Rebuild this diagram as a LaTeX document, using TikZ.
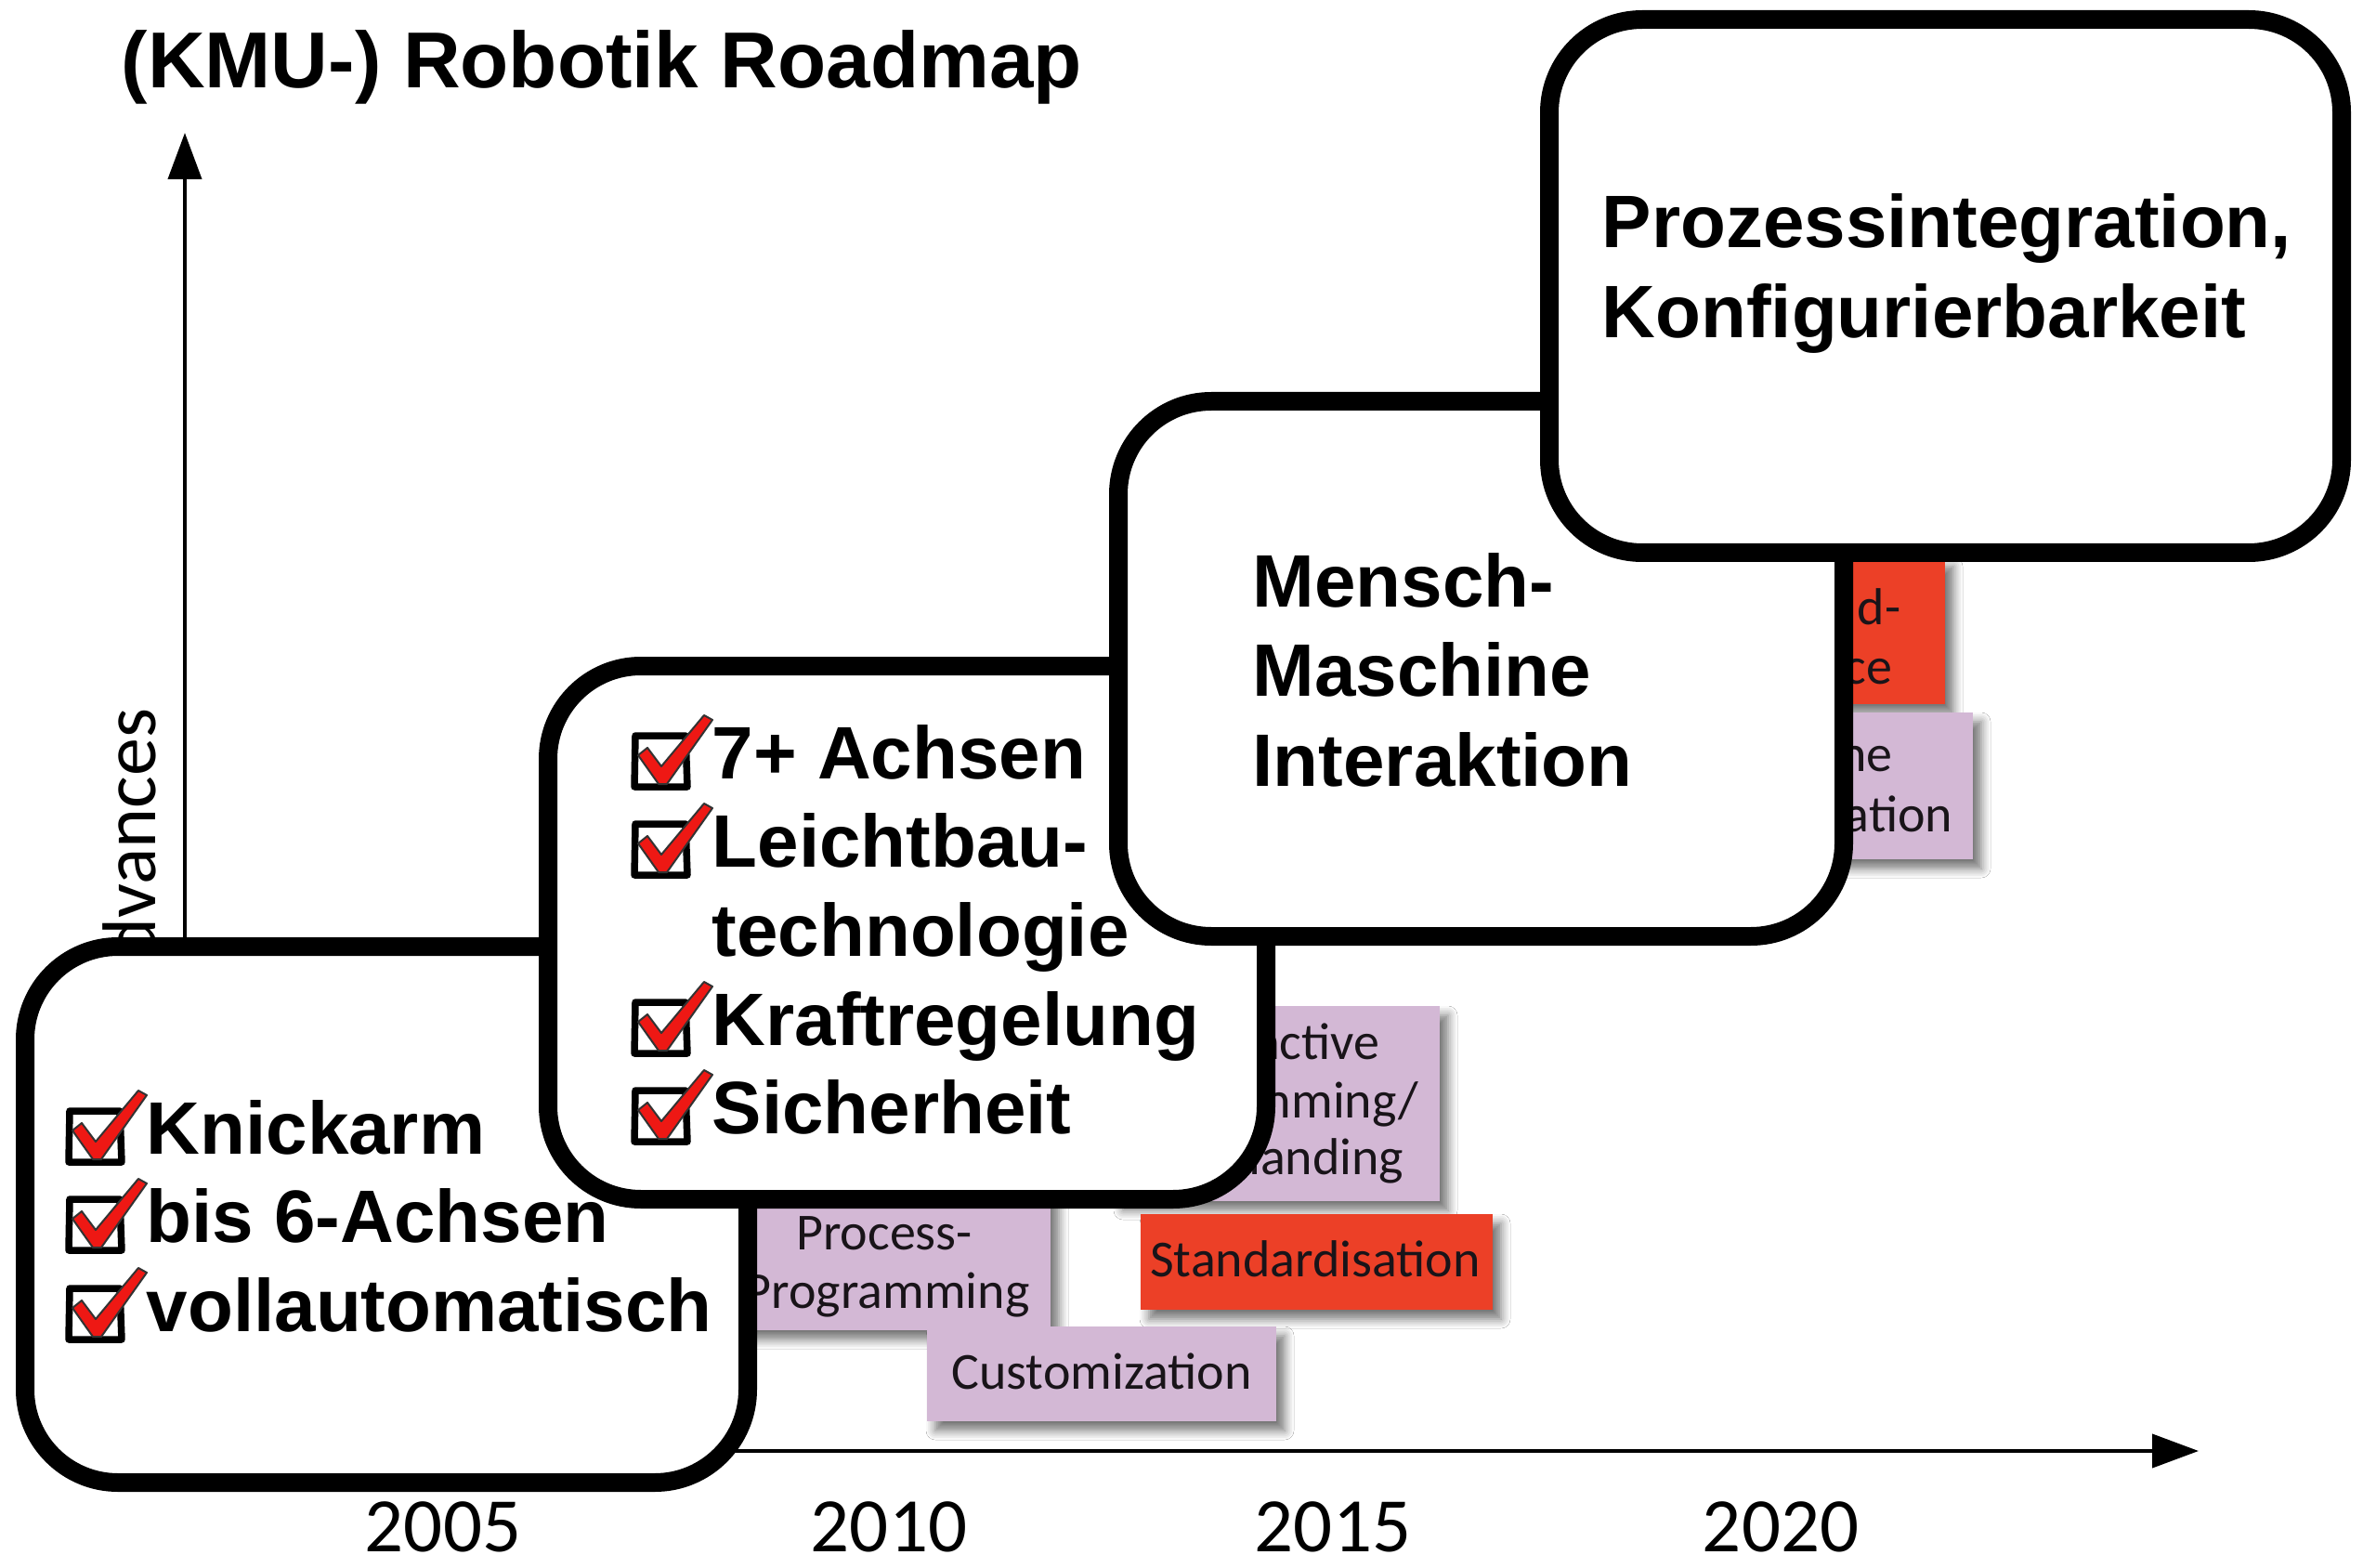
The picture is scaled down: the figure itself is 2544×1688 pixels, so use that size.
\documentclass[tikz,border=0pt]{standalone}
\usepackage{fontspec}
\setmainfont{Liberation Sans}
\newfontfamily\gillfont{Carlito}
\usetikzlibrary{arrows.meta,shadows.blur}
\definecolor{lav}{RGB}{211,184,213}
\definecolor{redbox}{RGB}{236,64,39}
\definecolor{chkred}{RGB}{238,24,20}
\definecolor{boxtext}{RGB}{25,20,25}
\begin{document}
\begin{tikzpicture}[x=0.1mm,y=-0.1mm,
  bigbox/.style={draw=black, fill=white, line width=2mm, rounded corners=10mm, inner sep=0pt, outer sep=0pt},
  bigtext/.style={font=\fontsize{22.76pt}{27pt}\selectfont\bfseries, anchor=base west, inner sep=0pt},
  tagbox/.style={inner sep=0pt, outer sep=0pt, blur shadow={shadow xshift=0.9mm, shadow yshift=-1mm, shadow blur radius=1mm, shadow blur steps=6, shadow opacity=55}},
  tagtext/.style={font=\gillfont\fontsize{15.93pt}{18pt}\selectfont, text=boxtext, inner sep=0pt},
  yeartext/.style={font=\gillfont\fontsize{23.6pt}{27pt}\selectfont, anchor=base, inner sep=0pt},
  axisline/.style={line width=0.4mm, -{Triangle[length=5mm,width=3.6mm]}},
  chk/.pic={
    \draw[line width=0.75mm, line join=round] (4,-46) -- (58,-46) -- (60,9) -- (3,9) -- cycle;
    \filldraw[fill=chkred, draw=black!80, line width=0.2mm, line join=round]
      (7,-25) -- (17,-33) -- (32,-13) -- (78,-68) -- (87,-63) -- (38,6) -- (29,6) -- cycle;
  }
]
\fill[white] (0,0) rectangle (2544,1688);
\useasboundingbox (0,0) rectangle (2544,1688);

% title
\node[font=\fontsize{24.3pt}{29pt}\selectfont\bfseries, anchor=base west, inner sep=0pt] (title) at (130,95) {(KMU-) Robotik Roadmap};

% axes
\coordinate (O) at (199,1562);
\coordinate (ytip) at (199,143);
\coordinate (xtip) at (2367,1562);
\draw[axisline] (O) -- (ytip);
\draw[axisline] (O) -- (xtip);
\node[rotate=90, anchor=base east, font=\gillfont\fontsize{23.3pt}{27pt}\selectfont, inner sep=0pt] (adv) at (167,762) {advances};

% years
\node[yeartext] (y2005) at (477,1670) {2005};
\node[yeartext] (y2010) at (957,1670) {2010};
\node[yeartext] (y2015) at (1435,1670) {2015};
\node[yeartext] (y2020) at (1917,1670) {2020};

% coloured tags
\node[tagbox, fill=lav, minimum width=35.8mm, minimum height=16.2mm] (proc) at (952,1351) {};
\node[tagbox, fill=lav, minimum width=35mm, minimum height=21mm] (inter) at (1375,1188) {};
\node[tagbox, fill=redbox, minimum width=37.9mm, minimum height=10.3mm] (stand) at (1417.5,1358.5) {};
\node[tagbox, fill=lav, minimum width=37.6mm, minimum height=10.2mm] (cust) at (1186,1479) {};
\node[tagbox, fill=redbox, minimum width=24.4mm, minimum height=15.8mm] (red2) at (1972,679) {};
\node[tagbox, fill=lav, minimum width=27.4mm, minimum height=15.8mm] (lav2) at (1987,846) {};

\node[tagtext, anchor=base] (proc1) at (952,1345) {Process-};
\node[tagtext, anchor=base] (proc2) at (955,1408) {Programming};
\node[tagtext, anchor=base] (cust1) at (1186,1495) {Customization};
\node[tagtext, anchor=base] (stand1) at (1416,1374) {Standardisation};
\node[tagtext, anchor=base east] (inter1) at (1486,1140) {active};
\node[tagtext, anchor=base east] (inter2) at (1528,1203) {mming/};
\node[tagtext, anchor=base east] (inter3) at (1512,1264) {nanding};
\node[tagtext, anchor=base east] (red2a) at (2047,672) {d-};
\node[tagtext, anchor=base east] (red2b) at (2038,736) {ce};
\node[tagtext, anchor=base east] (lav2a) at (2038,830) {ne};
\node[tagtext, anchor=base east] (lav2b) at (2103,895) {ation};

% big boxes
\node[bigbox, minimum width=77.8mm, minimum height=57.7mm] (b1) at (416,1307.5) {};
\node[bigbox, minimum width=77.3mm, minimum height=57.4mm] (b2) at (976.5,1004) {};
\node[bigbox, minimum width=78.1mm, minimum height=57.6mm] (b3) at (1594.5,720) {};
\node[bigbox, minimum width=85.3mm, minimum height=57.4mm] (b4) at (2094.5,308) {};

% box 1 text
\pic (c11) at (71,1242) {chk};
\pic (c12) at (71,1337) {chk};
\pic (c13) at (71,1433) {chk};
\node[bigtext] (t11) at (157,1242) {Knickarm};
\node[bigtext] (t12) at (157,1337) {bis 6-Achsen};
\node[bigtext] (t13) at (157,1433) {vollautomatisch};

% box 2 text
\pic (c21) at (680,838) {chk};
\pic (c22) at (680,933) {chk};
\pic (c23) at (680,1125) {chk};
\pic (c24) at (680,1220) {chk};
\node[bigtext] (t21) at (766,838) {7+ Achsen};
\node[bigtext] (t22) at (766,933) {Leichtbau-};
\node[bigtext] (t23) at (766,1029) {technologie};
\node[bigtext] (t24) at (766,1125) {Kraftregelung};
\node[bigtext] (t25) at (766,1220) {Sicherheit};

% box 3 text
\node[bigtext] (t31) at (1348,654) {Mensch-};
\node[bigtext] (t32) at (1348,750) {Maschine};
\node[bigtext] (t33) at (1348,846) {Interaktion};

% box 4 text
\node[bigtext] (t41) at (1724,267) {Prozessintegration,};
\node[bigtext] (t42) at (1724,364) {Konfigurierbarkeit};
\end{tikzpicture}
\end{document}
